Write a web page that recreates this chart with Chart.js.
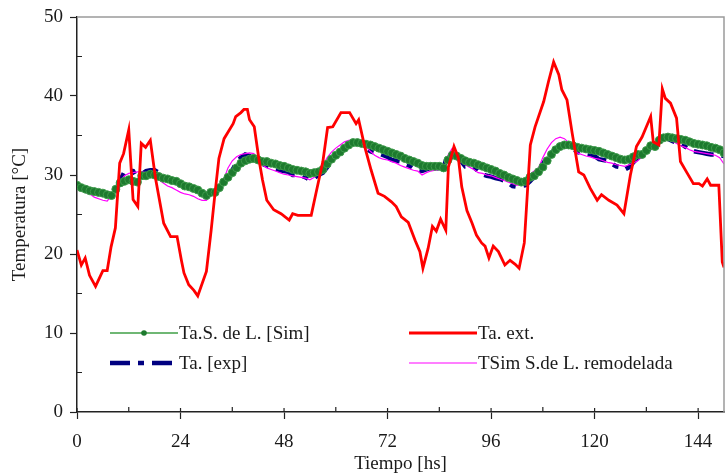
<!DOCTYPE html>
<html>
<head>
<meta charset="utf-8">
<script src="https://cdn.jsdelivr.net/npm/chart.js@4.4.1/dist/chart.umd.min.js"></script>
<style>
  body { margin: 0; background: #fff; }
  canvas { display: block; }
</style>
</head>
<body>
<canvas id="temp-chart" width="725" height="476"></canvas>
<script>
// hourly series (0..150 h)
const simTemp = [
  28.7,28.4,28.2,28.0,27.9,27.8,27.7,27.5,27.4,28.2,
  29.0,29.2,29.4,29.2,29.1,29.9,29.9,30.1,30.0,29.8,
  29.6,29.5,29.3,29.2,28.9,28.6,28.5,28.3,28.1,27.7,
  27.4,27.8,27.8,28.4,29.1,29.7,30.3,30.9,31.5,31.8,
  32.0,32.1,31.9,31.7,31.7,31.5,31.4,31.2,31.1,30.9,
  30.7,30.6,30.5,30.4,30.2,30.3,30.4,30.7,31.4,32.0,
  32.5,32.9,33.4,33.8,34.1,34.1,34.0,33.9,33.8,33.6,
  33.4,33.2,33.0,32.8,32.6,32.4,32.1,31.9,31.7,31.5,
  31.2,31.1,31.1,31.1,31.1,30.9,31.9,32.5,32.4,32.1,
  31.8,31.6,31.5,31.3,31.1,30.9,30.7,30.5,30.2,30.0,
  29.7,29.5,29.3,29.1,29.2,29.7,29.9,30.4,31.0,31.8,
  32.6,33.2,33.6,33.8,33.8,33.7,33.5,33.4,33.3,33.2,
  33.1,33.0,32.8,32.6,32.4,32.2,32.0,31.9,32.0,32.3,
  32.6,32.6,33.1,33.7,33.6,34.4,34.7,34.8,34.7,34.6,
  34.5,34.4,34.2,34.0,33.9,33.8,33.7,33.5,33.4,33.2,
  32.8
];

const expTemp = [
  28.7,28.4,28.2,28.0,27.9,27.8,27.7,27.5,27.4,28.0,
  29.3,30.4,30.6,30.5,29.6,30.1,30.5,30.6,30.6,30.3,
  29.8,29.5,29.3,29.1,28.8,28.5,28.4,28.2,28.0,27.6,
  27.3,27.6,27.8,28.3,29.2,29.9,30.6,31.6,32.2,32.6,
  32.4,32.1,31.8,31.4,31.2,31.0,30.8,30.6,30.5,30.4,
  30.0,30.0,29.9,29.7,29.4,29.6,30.0,30.3,31.0,31.8,
  32.4,32.9,33.4,33.8,34.1,34.2,33.9,33.4,33.0,32.8,
  32.7,32.5,32.3,31.9,31.8,31.7,31.4,31.2,30.8,30.6,
  30.5,30.7,30.9,30.9,30.8,31.0,32.6,32.8,32.2,31.8,
  31.1,31.2,31.0,30.5,30.1,29.9,29.8,29.6,29.5,29.3,
  29.0,28.6,28.5,28.6,28.7,29.2,29.8,30.6,31.4,32.2,
  32.8,33.3,33.6,33.7,33.6,33.3,32.9,32.8,32.7,32.6,
  32.4,32.0,31.9,31.8,31.4,31.1,31.0,30.7,31.0,31.6,
  32.2,32.5,32.8,33.5,33.9,34.6,34.7,34.6,34.3,34.1,
  34.0,33.6,33.2,33.0,32.9,32.8,32.7,32.6,32.6,32.5,
  32.4
];

const remodTemp = [
  28.2,28.0,27.8,27.6,27.2,27.0,26.8,26.7,27.4,28.1,
  29.2,29.9,30.2,30.3,30.4,30.4,30.3,30.2,29.9,29.4,
  29.0,28.6,28.4,28.1,27.8,27.6,27.5,27.3,27.0,26.8,
  26.8,27.4,28.0,28.7,29.4,30.9,31.8,32.3,32.6,32.7,
  32.8,32.7,32.0,31.3,30.9,30.7,30.5,30.3,30.1,30.0,
  29.9,29.8,29.7,29.6,29.4,29.7,30.4,31.2,32.2,32.9,
  33.4,33.8,34.2,34.4,34.4,34.3,34.2,33.6,33.0,32.5,
  32.2,32.0,31.9,31.7,31.5,31.2,31.0,30.8,30.6,30.5,
  30.0,30.3,30.5,30.6,30.7,30.6,32.5,33.4,32.8,31.9,
  31.3,31.0,30.7,30.3,30.2,30.0,29.9,29.7,29.5,29.3,
  29.1,28.9,28.7,28.9,29.5,30.1,30.5,30.9,32.2,33.3,
  34.1,34.6,34.8,34.6,34.1,33.4,32.8,32.6,32.4,32.3,
  32.1,32.0,31.8,31.6,31.5,31.3,31.2,31.1,31.3,31.5,
  31.8,32.3,33.1,33.6,33.7,34.3,34.8,34.6,34.3,34.0,
  33.7,33.5,33.2,33.0,32.9,32.8,32.7,32.6,32.5,32.2,
  31.4
];

// outside temperature, read at its vertices
const extHours = [0,1.0,1.9,2.9,4.3,6.0,7.0,7.9,8.9,9.9,10.8,12.0,13.0,14.1,14.9,15.9,17.0,18.2,20.1,21.7,23.2,24.2,24.8,25.9,27.1,28.0,
  30.0,31.1,32.0,32.9,34.1,36.2,36.8,38.0,38.7,39.5,40.0,41.1,42.2,43.0,44.0,45.6,47.3,49.2,50.0,51.2,54.3,55.4,57.0,58.1,59.3,61.2,63.2,64.7,65.3,66.7,68.2,69.8,71.3,72.9,74.0,75.2,76.8,78.4,79.5,80.2,81.4,82.4,83.3,84.3,85.5,
  86.1,87.4,88.4,89.2,90.4,91.6,92.6,93.8,94.6,95.5,96.5,97.7,99.2,100.4,101.6,102.5,103.7,105.1,106.2,108.2,109.3,110.5,111.7,112.4,113.6,114.8,116.3,117.5,119.0,120.6,121.6,123.3,125.2,126.8,
  128.3,129.7,131.0,133.0,133.6,134.9,135.7,136.4,137.6,139.0,139.9,141.5,142.9,144.2,145.0,146.1,146.9,148.8,149.6,150.0];
const extTemp = [20.5,18.6,19.5,17.3,15.9,17.9,17.9,20.9,23.3,31.5,32.7,35.7,26.9,26.0,34.0,33.5,34.4,29.6,23.9,22.2,22.2,19.2,17.6,16.1,15.4,14.7,
  17.8,23.0,27.7,32.1,34.6,36.5,37.4,37.9,38.3,38.3,37.0,36.1,31.9,29.4,26.8,25.6,25.1,24.3,25.1,24.9,24.9,27.7,31.7,36.0,36.1,37.9,37.9,36.5,37.0,33.6,30.6,27.7,27.3,26.6,26.0,24.7,24.0,21.7,20.3,18.2,20.7,23.5,22.9,24.4,23.0,
  31.0,33.6,32.2,28.5,25.5,23.9,22.4,21.4,21.0,19.5,21.0,20.3,18.6,19.2,18.7,18.2,21.4,33.8,36.1,39.3,41.8,44.3,42.7,40.8,39.5,35.3,30.4,30.0,28.3,26.8,27.5,26.8,26.2,25.1,
  30.0,33.6,34.8,37.4,34.2,33.8,40.9,39.7,39.1,37.2,31.7,30.2,28.9,28.9,28.6,29.5,28.7,28.7,19.0,18.3];

const hours = simTemp.map((_, i) => i);
const yTicks = [0, 10, 20, 30, 40, 50];
const xTicks = [0, 24, 48, 72, 96, 120, 144];

const FONT = 'Liberation Serif, Times New Roman, serif';
const TXT = '#1a1a1a';

const pts = (xs, ys) => ys.map((v, i) => ({ x: xs[i], y: v }));

// axis decoration: inner ticks, top and right frame, legend
const frame = {
  id: 'frame',
  afterDraw(chart) {
    const { ctx, chartArea: a, scales: { x, y } } = chart;
    ctx.save();
    ctx.strokeStyle = '#9a9a9a';
    ctx.lineWidth = 1.5;
    ctx.beginPath();
    ctx.moveTo(a.left, a.top); ctx.lineTo(a.right, a.top); ctx.lineTo(a.right, a.bottom);
    ctx.stroke();

    ctx.strokeStyle = '#222';
    ctx.lineWidth = 1.2;
    ctx.beginPath();
    for (let h = 12; h < 150; h += 24) {
      const px = x.getPixelForValue(h);
      ctx.moveTo(px, a.bottom); ctx.lineTo(px, a.bottom - 5);
    }
    xTicks.forEach(h => {
      const px = x.getPixelForValue(h);
      ctx.moveTo(px, a.bottom); ctx.lineTo(px, a.bottom - 4);
    });
    for (let v = 5; v < 50; v += 10) {
      const py = y.getPixelForValue(v);
      ctx.moveTo(a.left, py); ctx.lineTo(a.left + 5, py);
    }
    ctx.stroke();

    // legend, two rows by two columns inside the plot
    const ds = chart.data.datasets;
    const items = [
      { d: ds[1], col: 0, row: 0 },
      { d: ds[0], col: 1, row: 0 },
      { d: ds[3], col: 0, row: 1 },
      { d: ds[2], col: 1, row: 1 }
    ];
    const cols = [110, 409], rows = [333, 363], len = 68;
    ctx.font = '19px ' + FONT;
    ctx.fillStyle = TXT;
    ctx.textBaseline = 'middle';
    items.forEach(it => {
      const x0 = cols[it.col], yy = rows[it.row];
      ctx.save();
      ctx.strokeStyle = it.d.borderColor;
      ctx.lineWidth = it.d.borderWidth;
      ctx.setLineDash(it.d.borderDash || []);
      ctx.beginPath(); ctx.moveTo(x0, yy); ctx.lineTo(x0 + len, yy); ctx.stroke();
      if (it.d.pointRadius > 0) {
        ctx.setLineDash([]);
        ctx.fillStyle = it.d.pointBackgroundColor;
        ctx.beginPath(); ctx.arc(x0 + len / 2, yy, 2.8, 0, Math.PI * 2); ctx.fill();
      }
      ctx.restore();
      ctx.fillText(it.d.label, x0 + len + 1, yy + 1);
    });
    ctx.restore();
  }
};

new Chart(document.getElementById('temp-chart'), {
  type: 'line',
  data: {
    datasets: [
      {
        label: 'Ta. ext.',
        data: pts(extHours, extTemp),
        borderColor: '#ff0000',
        borderWidth: 2.8,
        pointRadius: 0
      },
      {
        label: 'Ta.S. de L. [Sim]',
        data: pts(hours, simTemp),
        borderColor: '#3f9f46',
        borderWidth: 1.5,
        pointRadius: 4,
        pointBackgroundColor: '#1d7a2e',
        pointBorderColor: '#3d9a4a',
        pointBorderWidth: 1
      },
      {
        label: 'TSim S.de L. remodelada',
        data: pts(hours, remodTemp),
        borderColor: '#ff00ff',
        borderWidth: 1.2,
        pointRadius: 0
      },
      {
        label: 'Ta. [exp]',
        data: pts(hours, expTemp),
        borderColor: '#000080',
        borderWidth: 4.5,
        borderDash: [20, 8, 6, 8],
        pointRadius: 0
      }
    ]
  },
  options: {
    responsive: false,
    animation: false,
    devicePixelRatio: 1,
    layout: { autoPadding: false, padding: { top: 17, right: 1, left: 0, bottom: 0 } },
    elements: { line: { tension: 0 } },
    plugins: { legend: { display: false }, tooltip: { enabled: false } },
    scales: {
      x: {
        type: 'linear',
        min: 0,
        max: 150,
        afterFit: s => { s.height = 64; s.paddingLeft = 0; s.paddingRight = 0; },
        border: { color: '#222', width: 1.5 },
        grid: {
          drawOnChartArea: false,
          tickLength: 7,
          tickWidth: 1.2,
          tickColor: c => (c.tick && c.tick.value % 24 === 0) ? '#222' : 'rgba(0,0,0,0)'
        },
        ticks: {
          stepSize: 12,
          includeBounds: false,
          autoSkip: false,
          maxRotation: 0,
          padding: 12,
          color: TXT,
          font: { family: FONT, size: 19 },
          callback: v => xTicks.includes(v) ? v : ''
        },
        title: {
          display: true,
          text: 'Tiempo [hs]',
          color: TXT,
          font: { family: FONT, size: 19 },
          padding: { top: 0, bottom: 1 }
        }
      },
      y: {
        min: 0,
        max: 50,
        afterFit: s => { s.width = 77; s.paddingTop = 0; s.paddingBottom = 0; },
        border: { color: '#222', width: 1.5 },
        grid: {
          drawOnChartArea: false,
          tickLength: 7,
          tickWidth: 1.2,
          tickColor: c => (c.tick && c.tick.value % 10 === 0) ? '#222' : 'rgba(0,0,0,0)'
        },
        ticks: {
          stepSize: 5,
          padding: 7,
          color: TXT,
          font: { family: FONT, size: 19 },
          callback: v => yTicks.includes(v) ? v : ''
        },
        title: {
          display: true,
          text: 'Temperatura [°C]',
          color: TXT,
          font: { family: FONT, size: 19 },
          padding: { top: 9, bottom: 0 }
        }
      }
    }
  },
  plugins: [frame]
});
</script>
</body>
</html>
